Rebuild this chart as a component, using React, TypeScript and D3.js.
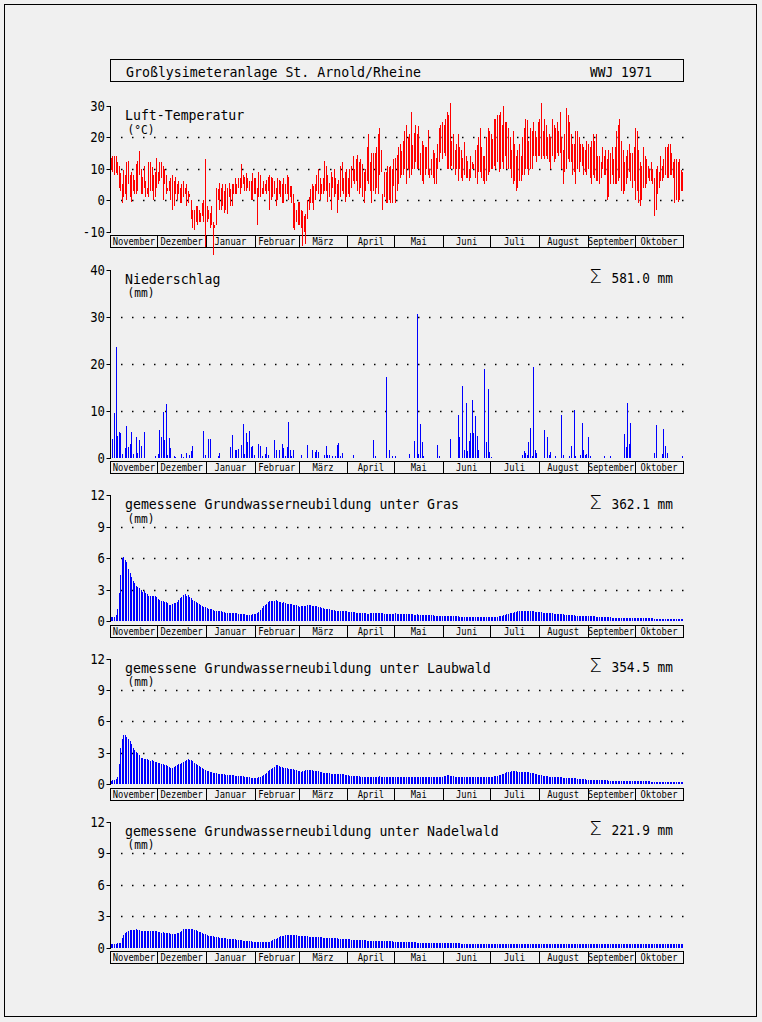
import React from "react";
import * as d3 from "d3";

// ---------- categories ----------
const monthNames = ["November", "Dezember", "Januar", "Februar", "März", "April", "Mai", "Juni", "Juli", "August", "September", "Oktober"];
const monthLengths = [30, 31, 31, 28, 31, 30, 31, 30, 31, 31, 30, 31];

// ---------- tick labels ----------
const tempTicks = [-10, 0, 10, 20, 30];
const tempGrid = [0, 10, 20];
const precTicks = [0, 10, 20, 30, 40];
const precGrid = [10, 20, 30];
const gwTicks = [0, 3, 6, 9, 12];
const gwGrid = [3, 6, 9];

// ---------- daily air temperature (max / min, °C), one row per month Nov..Okt ----------
const tMax = [
  [13.5,14,14,14,12,11,8.5,5,9.5,8,12,12.5,8,9,8,6.5,11.5,12.5,15.5,10,7.5,11,6,4,12,12,10.5,8,9,13.5],
  [9,12,12,11,10,8,4,6,7,8,6,7.5,5,6,4,5,6,4,5,3,2,0,-3,-3,-2,-2,-3,-4,-1,0,13],
  [-2,-3,-4,-2,-7,-8,4,3.5,5.5,4,5,3,5,4,5.5,3.5,5,5,7,5,7,7,11.5,8,7.5,8.5,7,6,6,8.5,7],
  [7,4,9,8,4,6,5,6.5,7.5,8,7.5,7,6,4,7,6.5,6,5,7,5,8,7.5,4.5,4.5,2,-1,-3,-0.5],
  [-0.5,-3,-3.5,-5,-4.5,0,1,3.5,5,4.5,5,8,10,7,5,7,12.5,11,8,5.5,9,7.5,10,7,5,6.5,11,12,7,9,10],
  [7,10,11,14,10,13,14.5,12,13,11.5,9,10,17,21,12,15,15,15,17,21,23,16,2,9,9,11,10.5,11,10,13],
  [13.5,14.5,17,18,15.5,19,22,24,20,21,28,17.5,21.5,24,21,23.5,15,19,17.5,17,17,22.5,10,13,16,15,13.5,18,23,24,25],
  [24,26,28,27,31,19,21,16,18,21,17,16,13.5,18.5,14,12.5,10,14,12,11.5,16,17.5,20,23,17,14,14,20,23,22],
  [21,19.5,26,26,27,27,28,24,30,25,25,23,20,16,22,18,14,16,18,14,20,23,26,25.5,19,23,22,25,22,20,25],
  [26,31,22,26,24,20,21,20,26,24,23,25,22,28,20,16,21,29.5,27,25,21,18,18,22,22,20,18,18,17,16,19],
  [18,17,19,21,19,21,14,14,12,17,14,16,13,16,15,17,13,17,22,24,26,19,16,12,14,16,18,15,15,17],
  [23,22,16,12,11,17,14,13,11,10,12,10,7,10,11,9,14,11,13,17,17,18,18,15,12,13,13,12,13,9.5,9],
];
const tMin = [
  [9.5,9,8,8.5,8,4,3,-1,1,2,0,5,1,-0.5,3,2,2,3,8,2,2,4,1,2,1,3,3,0,1,4],
  [5,6,7,0,5,2,3,3,0,-3,-2,2,0,2,-1,-1,1,2,-2,-1,1,-6,-9,-9.5,-7,-8,-7,-7,-5,-7,-15],
  [-7,-6,-9,-8,-17.5,-9,-8,0,-3,-3,-2,-4,-3,-4.5,1,-2,-2,2,2,2,4,2,4,5,3,3,4,3,0,0,2],
  [2,-8,1,1,2,2,3,2,3,-3,0,1,2,-2,0,2,1,-1,-1,2,2,0,1,-1,-9,-9.5,-7,-8],
  [-8,-9,-14.5,-10,-14,-6,-3,-1,-1,-3,0,3,2,0,2,2,3,3,-0.5,1,-3,4,1,2,-4,0,1,3,2,-0.5,1],
  [2,1,4,6,5,6,3,2,4,1,-1,3,6,5,3,-1,3,2,4,2,8,9,-3,1,-1,-1,0,-1,-1,4.5],
  [-1,3,5,7,8,8,10,5,10,7,8,10,10,12,10,10,8,6,5,8,10,8,7,8,7,5,5,10,12,15,13],
  [15,14,10,10,10,11,10,8,10,6,10,7,6,8,7,7,6,7,10,10,7,5,9,9,7,6,5,6,8,9],
  [10,10,11,10,12,9,10,12,10,14,10,10,10,7,5,6,3,4,6,6,8,8,10,10,8,10,10,14,14,12,14],
  [14,13,14,13,14,13,12,10,14,12,13,15,14,15,10,5,9,10,13,12,12,8,9,5,10,9,12,11,8,9,8],
  [10,7,5,8,7,6,6,5,7,10,8,8,0,1,5,8,5,5,5,6,7,3,2,3,5,7,9,6,4,6],
  [0,3,-1,-2,0,4,4,5,7,6,6,5,-5,-3,2,4,6,6,7,8,7,7,8,8,7,-1,0,-0.5,0,3,3],
];

// ---------- precipitation: [day of water year (0 = 1 Nov), mm] ----------
const precip = [
  [1,3.9],[2,9.4],[3,23.5],[4,4.5],[5,5.4],[6,5.2],[7,0.7],[9,2.0],[10,6.7],[11,2.2],[12,2.8],[13,5.4],[14,0.8],[16,4.4],[17,1.0],[18,3.7],[19,2.5],[21,5.4],[28,0.3],
  [30,0.7],[31,5.8],[32,4.4],[33,9.6],[34,3.8],[35,11.3],[36,0.6],[37,4.1],[38,2.0],[40,0.3],[41,0.2],[45,0.7],[46,0.2],[48,0.9],[50,0.5],[51,1.3],[52,2.4],[59,5.6],[60,0.5],
  [62,3.9],[63,3.9],[68,0.4],[69,1.0],[76,2.2],[77,4.8],[79,1.5],[80,1.6],[81,1.8],[83,2.6],[84,7.1],[85,0.8],[86,5.2],[87,3.3],[88,5.6],[89,2.2],[90,2.4],[91,0.6],
  [94,2.8],[95,2.4],[96,0.4],[98,0.8],[99,2.2],[100,0.6],[104,3.7],[105,1.6],[107,1.7],[109,2.9],[110,2.1],[111,0.4],[112,2.2],[113,7.5],[114,1.6],[115,0.4],[116,1.6],
  [121,0.6],[125,2.6],[128,1.6],[130,1.2],[131,1.6],[132,1.1],[136,0.5],[137,2.4],[138,0.6],[139,0.6],[141,0.4],[143,0.4],[144,2.6],[145,3.1],[146,0.3],[147,1.0],
  [154,0.6],[167,3.7],[168,0.4],[175,17.1],[177,1.6],[179,0.4],
  [181,0.3],[190,0.8],[193,3.5],[195,30.5],[196,0.8],[197,7.2],[198,3.2],[199,0.4],[208,2.7],[209,0.4],
  [216,4.0],[221,9.0],[222,4.4],[224,15.3],[225,1.5],[226,11.5],[227,1.3],[228,3.6],[229,5.3],[230,12.3],[231,5.2],[232,8.9],[233,4.6],[234,1.5],[238,18.9],[239,3.3],[240,14.6],[241,1.2],
  [242,0.2],[262,0.5],[263,1.4],[264,1.0],[265,0.6],[266,3.3],[267,6.3],[268,0.3],[269,19.3],[270,1.7],[271,0.9],
  [276,5.9],[278,4.4],[279,0.6],[280,1.2],[283,0.3],[287,9.1],[288,0.6],[292,0.3],[293,2.4],[295,10.1],[296,0.3],[299,0.6],[300,7.3],[301,1.7],[302,0.6],[303,0.8],
  [304,4.3],[305,0.3],[314,0.4],[318,0.3],[327,4.9],[328,2.2],[329,11.6],[330,2.9],[331,7.3],
  [346,1.0],[347,6.9],[351,0.8],[352,6.1],[353,2.4],[354,1.0],[364,0.3],
];

// ---------- groundwater recharge (mm/day), one row per month ----------
const gwGras = [
  [0.35,0.4,0.4,0.55,1.1,2.7,4.4,6.0,6.1,5.8,5.6,5.0,4.6,4.2,3.8,3.6,3.3,3.25,3.15,3.0,2.8,2.85,2.7,2.6,2.4,2.4,2.4,2.4,2.4,2.3],
  [2.1,2.0,1.95,1.9,1.85,1.8,1.75,1.5,1.5,1.6,1.7,1.75,1.85,2.0,2.15,2.3,2.5,2.55,2.4,2.45,2.3,2.2,2.0,1.9,1.85,1.75,1.65,1.55,1.45,1.35,1.3],
  [1.2,1.15,1.1,1.1,1.05,1.0,0.95,0.95,0.95,0.95,0.9,0.85,0.8,0.8,0.8,0.78,0.76,0.75,0.75,0.72,0.7,0.68,0.66,0.65,0.62,0.6,0.6,0.6,0.6,0.62,0.66],
  [0.7,0.8,0.9,1.05,1.25,1.4,1.5,1.65,1.8,1.9,1.95,1.95,1.9,2.0,1.9,1.85,1.8,1.75,1.78,1.7,1.65,1.6,1.6,1.62,1.55,1.5,1.48,1.45],
  [1.3,1.4,1.42,1.45,1.45,1.48,1.5,1.5,1.45,1.45,1.42,1.4,1.35,1.3,1.25,1.2,1.15,1.12,1.1,1.1,1.05,1.05,1.02,1.0,1.0,0.98,0.97,0.96,0.95,0.95,0.92],
  [0.9,0.9,0.88,0.85,0.82,0.8,0.8,0.8,0.78,0.75,0.75,0.72,0.7,0.7,0.75,0.8,0.78,0.76,0.75,0.75,0.74,0.72,0.72,0.7,0.7,0.7,0.7,0.7,0.7,0.7],
  [0.72,0.7,0.7,0.68,0.66,0.65,0.64,0.65,0.66,0.64,0.63,0.62,0.6,0.6,0.62,0.6,0.58,0.58,0.57,0.56,0.56,0.55,0.55,0.54,0.53,0.52,0.52,0.5,0.5,0.5,0.5],
  [0.5,0.5,0.48,0.47,0.46,0.45,0.45,0.44,0.44,0.43,0.42,0.42,0.41,0.4,0.4,0.4,0.39,0.38,0.38,0.37,0.36,0.35,0.35,0.34,0.34,0.34,0.34,0.35,0.35,0.36],
  [0.36,0.37,0.38,0.4,0.42,0.45,0.48,0.52,0.56,0.6,0.64,0.68,0.72,0.76,0.8,0.85,0.9,0.92,0.94,0.95,0.95,0.96,0.95,0.95,0.94,0.93,0.92,0.91,0.9,0.88,0.86],
  [0.84,0.82,0.8,0.79,0.78,0.76,0.75,0.74,0.72,0.71,0.7,0.68,0.66,0.64,0.63,0.62,0.6,0.58,0.57,0.56,0.55,0.54,0.53,0.52,0.52,0.51,0.5,0.5,0.49,0.48,0.47],
  [0.46,0.45,0.45,0.44,0.43,0.42,0.41,0.4,0.38,0.37,0.36,0.35,0.35,0.34,0.34,0.33,0.33,0.33,0.32,0.32,0.32,0.31,0.31,0.3,0.3,0.3,0.29,0.29,0.28,0.28],
  [0.27,0.27,0.26,0.26,0.26,0.25,0.25,0.25,0.25,0.24,0.24,0.24,0.23,0.23,0.23,0.22,0.22,0.22,0.22,0.21,0.21,0.21,0.21,0.2,0.2,0.2,0.2,0.2,0.19,0.19,0.19],
];
const gwLaub = [
  [0.35,0.4,0.4,0.5,0.7,1.9,3.5,4.35,4.75,4.7,4.5,4.35,4.1,3.8,3.5,3.25,3.1,3.0,2.8,2.55,2.55,2.4,2.4,2.4,2.3,2.25,2.3,2.25,2.15,2.1],
  [2.05,2.0,1.95,1.9,1.85,1.8,1.75,1.65,1.6,1.6,1.65,1.75,1.8,1.9,1.95,2.05,2.15,2.25,2.35,2.4,2.35,2.3,2.2,2.05,1.95,1.85,1.75,1.65,1.55,1.45,1.35],
  [1.3,1.25,1.2,1.15,1.12,1.1,1.05,1.02,1.0,1.0,0.97,0.95,0.92,0.9,0.9,0.88,0.86,0.85,0.82,0.8,0.8,0.8,0.78,0.75,0.74,0.72,0.7,0.68,0.62,0.6,0.62],
  [0.6,0.62,0.65,0.7,0.75,0.85,0.95,1.1,1.25,1.35,1.45,1.55,1.65,1.8,1.8,1.75,1.65,1.62,1.6,1.6,1.55,1.5,1.5,1.45,1.45,1.4,1.35,1.3],
  [1.25,1.2,1.25,1.3,1.32,1.35,1.35,1.33,1.32,1.3,1.3,1.28,1.25,1.2,1.15,1.12,1.1,1.08,1.05,1.05,1.02,1.0,1.0,1.0,0.98,0.97,0.96,0.95,0.95,0.93,0.9],
  [0.85,0.83,0.82,0.8,0.8,0.78,0.76,0.75,0.73,0.72,0.7,0.7,0.72,0.7,0.68,0.68,0.7,0.68,0.7,0.72,0.75,0.74,0.72,0.7,0.68,0.7,0.72,0.72,0.73,0.72],
  [0.72,0.72,0.7,0.7,0.7,0.71,0.7,0.69,0.68,0.7,0.7,0.69,0.68,0.68,0.7,0.7,0.69,0.68,0.67,0.68,0.68,0.67,0.66,0.67,0.68,0.68,0.69,0.7,0.7,0.71,0.73],
  [0.76,0.8,0.84,0.85,0.82,0.78,0.75,0.74,0.73,0.72,0.72,0.71,0.7,0.7,0.7,0.69,0.68,0.68,0.68,0.67,0.67,0.67,0.66,0.66,0.66,0.66,0.67,0.68,0.68,0.7],
  [0.72,0.74,0.76,0.78,0.8,0.85,0.9,0.96,1.02,1.08,1.14,1.18,1.22,1.24,1.25,1.25,1.24,1.22,1.2,1.19,1.18,1.17,1.16,1.15,1.13,1.1,1.07,1.04,1.0,0.96,0.92],
  [0.88,0.85,0.82,0.8,0.78,0.76,0.74,0.72,0.71,0.7,0.69,0.68,0.67,0.66,0.65,0.64,0.63,0.62,0.61,0.6,0.59,0.58,0.57,0.56,0.55,0.54,0.53,0.51,0.49,0.47,0.45],
  [0.43,0.42,0.42,0.41,0.41,0.4,0.4,0.39,0.39,0.38,0.38,0.37,0.37,0.36,0.36,0.36,0.35,0.35,0.35,0.34,0.34,0.34,0.33,0.33,0.33,0.32,0.32,0.31,0.31,0.3],
  [0.3,0.29,0.29,0.28,0.28,0.28,0.27,0.27,0.27,0.27,0.26,0.26,0.26,0.25,0.25,0.25,0.24,0.24,0.24,0.23,0.23,0.22,0.22,0.22,0.22,0.22,0.21,0.21,0.21,0.21,0.21],
];
const gwNadel = [
  [0.35,0.38,0.38,0.38,0.4,0.45,0.47,0.95,1.15,1.35,1.5,1.6,1.65,1.7,1.65,1.65,1.75,1.7,1.65,1.6,1.6,1.58,1.58,1.55,1.58,1.58,1.55,1.58,1.58,1.55],
  [1.5,1.45,1.42,1.45,1.4,1.4,1.38,1.35,1.3,1.3,1.3,1.3,1.35,1.4,1.45,1.58,1.74,1.77,1.77,1.77,1.76,1.77,1.74,1.7,1.62,1.55,1.5,1.45,1.4,1.3,1.26],
  [1.2,1.14,1.1,1.07,1.05,1.02,1.0,0.98,0.95,0.93,0.9,0.88,0.86,0.84,0.82,0.82,0.8,0.79,0.77,0.75,0.73,0.71,0.69,0.66,0.65,0.63,0.6,0.59,0.58,0.57,0.57],
  [0.57,0.55,0.54,0.54,0.54,0.54,0.54,0.54,0.55,0.57,0.63,0.7,0.78,0.82,0.88,1.0,1.07,1.1,1.12,1.15,1.17,1.17,1.18,1.2,1.17,1.17,1.15,1.12],
  [1.1,1.1,1.08,1.07,1.07,1.05,1.03,1.0,1.0,1.0,1.0,1.0,1.0,0.98,0.96,0.95,0.95,0.95,0.93,0.92,0.92,0.9,0.9,0.88,0.86,0.85,0.84,0.83,0.82,0.82,0.8],
  [0.79,0.77,0.75,0.73,0.73,0.73,0.72,0.71,0.7,0.7,0.68,0.67,0.66,0.66,0.66,0.66,0.65,0.64,0.63,0.63,0.63,0.62,0.62,0.62,0.61,0.6,0.6,0.59,0.58,0.57],
  [0.56,0.56,0.55,0.55,0.55,0.55,0.54,0.54,0.54,0.54,0.54,0.54,0.54,0.54,0.46,0.45,0.45,0.45,0.45,0.45,0.45,0.44,0.44,0.44,0.44,0.44,0.44,0.44,0.44,0.44,0.43],
  [0.43,0.43,0.43,0.43,0.43,0.43,0.43,0.43,0.43,0.43,0.42,0.38,0.38,0.38,0.38,0.38,0.38,0.38,0.38,0.38,0.38,0.38,0.38,0.38,0.38,0.38,0.38,0.38,0.38,0.38],
  [0.38,0.38,0.38,0.38,0.38,0.38,0.38,0.38,0.38,0.38,0.38,0.38,0.38,0.38,0.38,0.37,0.37,0.37,0.37,0.37,0.37,0.37,0.37,0.37,0.37,0.37,0.37,0.37,0.37,0.37,0.37],
  [0.37,0.37,0.37,0.37,0.37,0.37,0.37,0.37,0.37,0.37,0.37,0.37,0.37,0.37,0.37,0.36,0.36,0.36,0.36,0.36,0.36,0.36,0.36,0.36,0.36,0.36,0.36,0.36,0.36,0.36,0.36],
  [0.36,0.36,0.36,0.36,0.36,0.36,0.36,0.36,0.36,0.32,0.32,0.32,0.32,0.32,0.32,0.32,0.32,0.32,0.32,0.32,0.32,0.32,0.32,0.32,0.32,0.32,0.32,0.32,0.32,0.32],
  [0.32,0.32,0.32,0.32,0.32,0.32,0.32,0.32,0.32,0.32,0.31,0.31,0.31,0.31,0.31,0.31,0.31,0.31,0.31,0.31,0.3,0.3,0.3,0.3,0.3,0.3,0.3,0.3,0.3,0.3,0.3],
];

// ---------- texts ----------
const headerLeft = "Großlysimeteranlage St. Arnold/Rheine";
const headerRight = "WWJ 1971";
const panelTitles = [
  "Luft-Temperatur",
  "Niederschlag",
  "gemessene Grundwasserneubildung unter Gras",
  "gemessene Grundwasserneubildung unter Laubwald",
  "gemessene Grundwasserneubildung unter Nadelwald",
];
const panelUnits = ["(°C)", "(mm)", "(mm)", "(mm)", "(mm)"];
const panelSums = ["", "581.0 mm", "362.1 mm", "354.5 mm", "221.9 mm"];

// ---------- helpers ----------
const FONT = "'DejaVu Sans Mono', 'Liberation Mono', monospace";
const monthStart: number[] = [0];
monthLengths.forEach((n, i) => monthStart.push(monthStart[i] + n));
const x = d3.scaleLinear().domain([0, 365]).range([110.3, 683.3]);
const barX = (day: number) => Math.round(x(day) + 0.5);

function byDay(monthly: number[][]) {
  const out: { day: number; v: number }[] = [];
  monthly.forEach((arr, m) => arr.forEach((v, i) => out.push({ day: monthStart[m] + i, v })));
  return out;
}

type PanelSpec = {
  domain: [number, number];
  range: [number, number];
  ticks: number[];
  grid: number[];
  idx: number;
};

const panels: PanelSpec[] = [
  { domain: [-10, 30], range: [231.5, 106], ticks: tempTicks, grid: tempGrid, idx: 0 },
  { domain: [0, 40], range: [457.5, 269.5], ticks: precTicks, grid: precGrid, idx: 1 },
  { domain: [0, 12], range: [621, 495], ticks: gwTicks, grid: gwGrid, idx: 2 },
  { domain: [0, 12], range: [784.3, 658.5], ticks: gwTicks, grid: gwGrid, idx: 3 },
  { domain: [0, 12], range: [947.5, 821.5], ticks: gwTicks, grid: gwGrid, idx: 4 },
];

function Frame({ p }: { p: PanelSpec }) {
  const y = d3.scaleLinear().domain(p.domain).range(p.range);
  const yTop = p.range[1];
  const yBot = p.range[0];
  const bandTop = Math.round(yBot + 3.5) + 0.5;
  const title = panelTitles[p.idx];
  const unit = panelUnits[p.idx];
  const sum = panelSums[p.idx];
  return (
    <g>
      {p.grid.map((g) => (
        <line key={"g" + g} x1={121} x2={684} y1={Math.round(y(g)) + 0.5} y2={Math.round(y(g)) + 0.5}
          stroke="#000" strokeWidth={1.3} strokeDasharray="1.5 9.5" />
      ))}
      <line x1={110.5} x2={110.5} y1={Math.round(yTop)} y2={Math.round(yBot) + 1} stroke="#000" strokeWidth={1} />
      {p.ticks.map((t) => (
        <g key={"t" + t}>
          <line x1={106.5} x2={110.5} y1={Math.round(y(t)) + 0.5} y2={Math.round(y(t)) + 0.5} stroke="#000" />
          <text x={105} y={y(t) + 5} textAnchor="end" fontFamily={FONT} fontSize={14}
            textLength={String(t).length * 7.4} lengthAdjust="spacingAndGlyphs" fill="#000">{t}</text>
        </g>
      ))}
      <rect x={110.5} y={bandTop} width={573} height={12} fill="none" stroke="#000" strokeWidth={1} />
      {monthStart.slice(1, 12).map((d, i) => (
        <line key={"m" + i} x1={Math.round(x(d)) + 0.5} x2={Math.round(x(d)) + 0.5} y1={bandTop} y2={bandTop + 12} stroke="#000" />
      ))}
      {monthNames.map((m, i) => (
        <text key={m} x={x((monthStart[i] + monthStart[i + 1]) / 2)} y={bandTop + 9.5} textAnchor="middle"
          fontFamily={FONT} fontSize={10} textLength={Math.min(m.length * 5.3, 46)} lengthAdjust="spacingAndGlyphs" fill="#000">{m}</text>
      ))}
      <text x={125} y={yTop + 14} fontFamily={FONT} fontSize={14.5} textLength={title.length * 7.95}
        lengthAdjust="spacingAndGlyphs" fill="#000">{title}</text>
      <text x={127.5} y={yTop + 27.5} fontFamily={FONT} fontSize={12} textLength={27}
        lengthAdjust="spacingAndGlyphs" fill="#000">{unit}</text>
      {sum && (
        <g>
          <text x={589} y={yTop + 13.5} fontFamily="'DejaVu Sans', sans-serif" fontWeight={200} fontSize={19} textLength={13}
            lengthAdjust="spacingAndGlyphs" fill="#000">Σ</text>
          <text x={611.5} y={yTop + 13.5} fontFamily={FONT} fontSize={14.5} textLength={61.5}
            lengthAdjust="spacingAndGlyphs" fill="#000">{sum}</text>
        </g>
      )}
    </g>
  );
}

function TempBars() {
  const p = panels[0];
  const y = d3.scaleLinear().domain(p.domain).range(p.range);
  const hi = byDay(tMax);
  const lo = byDay(tMin);
  return (
    <g shapeRendering="crispEdges">
      {hi.map((d, i) => {
        const a = y(d.v);
        const b = y(lo[i] ? lo[i].v : d.v);
        return <rect key={i} x={barX(d.day)} y={Math.min(a, b)} width={1} height={Math.max(1, Math.abs(b - a))} fill="#ff0000" />;
      })}
    </g>
  );
}

function PrecipBars() {
  const p = panels[1];
  const y = d3.scaleLinear().domain(p.domain).range(p.range);
  return (
    <g shapeRendering="crispEdges">
      {precip.map(([day, v]) => (
        <rect key={day} x={barX(day)} y={y(v)} width={1} height={Math.max(1, y(0) - y(v))} fill="#0000ff" />
      ))}
    </g>
  );
}

function GwBars({ p, data }: { p: PanelSpec; data: number[][] }) {
  const y = d3.scaleLinear().domain(p.domain).range(p.range);
  return (
    <g shapeRendering="crispEdges">
      {byDay(data).map((d) => (
        <rect key={d.day} x={barX(d.day)} y={y(d.v)} width={1} height={Math.max(1, y(0) - y(d.v))} fill="#0000ff" />
      ))}
    </g>
  );
}

export default function App() {
  return (
    <svg width={762} height={1022} viewBox="0 0 762 1022" style={{ position: "absolute", left: 0, top: 0, display: "block" }}>
      <rect x={0} y={0} width={762} height={1022} fill="#f0f0f0" />
      <rect x={4.5} y={4.5} width={752} height={1012} fill="none" stroke="#000" strokeWidth={1} />
      <rect x={110.5} y={59.5} width={573} height={22} fill="none" stroke="#000" strokeWidth={1} />
      <text x={126} y={76.5} fontFamily={FONT} fontSize={14.5} textLength={headerLeft.length * 7.97}
        lengthAdjust="spacingAndGlyphs" fill="#000">{headerLeft}</text>
      <text x={590} y={76.5} fontFamily={FONT} fontSize={14.5} textLength={62}
        lengthAdjust="spacingAndGlyphs" fill="#000">{headerRight}</text>
      {panels.map((p) => <Frame key={p.idx} p={p} />)}
      <PrecipBars />
      <GwBars p={panels[2]} data={gwGras} />
      <GwBars p={panels[3]} data={gwLaub} />
      <GwBars p={panels[4]} data={gwNadel} />
      <TempBars />
    </svg>
  );
}
